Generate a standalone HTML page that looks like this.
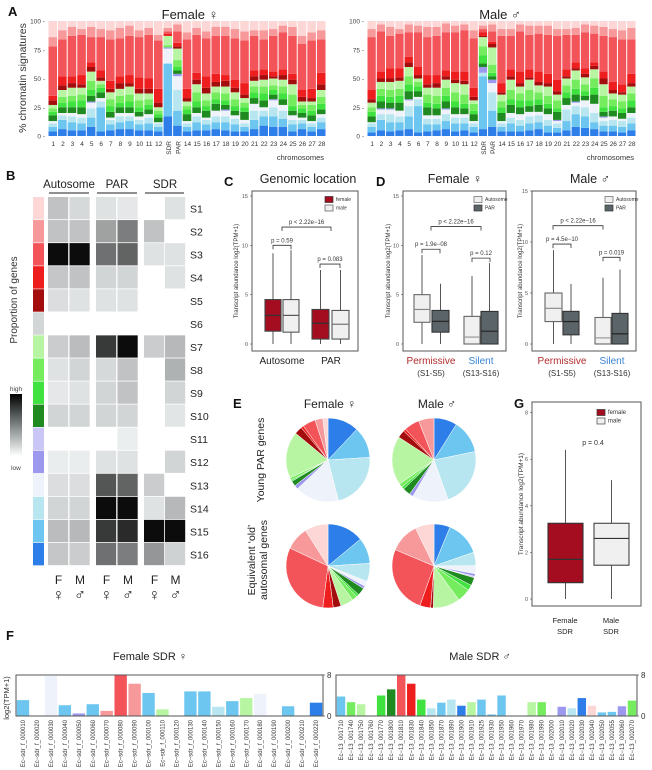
<!DOCTYPE html>
<html><head><meta charset="utf-8"><style>
html,body{margin:0;padding:0;background:#fff}
svg{display:block;font-family:"Liberation Sans",sans-serif}
</style></head><body>
<svg id="fig" xmlns="http://www.w3.org/2000/svg" width="652" height="770" viewBox="0 0 652 770"></svg>
<script>
// ---------- DATA ----------
const stateColors=['#fdd6d6','#f7999a','#f2545a','#ee1e1e','#a30d0d','#d3d6d6','#b8f5a3','#75ec5e','#3fe23f','#1f8a1f','#cac6f6','#9c98ee','#eef3fb','#b7e6f0','#6cc6ef','#2d7ee9'];
const stateNames=['S1','S2','S3','S4','S5','S6','S7','S8','S9','S10','S11','S12','S13','S14','S15','S16'];
const chromosomes=['1','2','3','4','5','6','7','8','9','10','11','12','SDR','PAR','14','15','16','17','18','19','20','21','22','23','24','25','26','27','28'];
const aTicks=[0,25,50,75,100];
// rows: S16..S1 percentages per chromosome
const femaleStacks=[
[4,4,3,2,0,0,5,3,3,3,0,4,4,43,8,14],[6,8,4,2,0,0,5,4,5,6,0,4,8,32,8,8],[5,7,5,3,0,0,5,5,5,7,0,4,6,35,8,5],
[5,6,5,3,0,0,6,6,5,6,0,3,8,35,5,7],[8,8,8,5,1,0,5,5,8,8,0,4,4,22,9,5],[4,21,5,3,0,0,5,4,3,3,0,3,6,29,7,7],
[5,5,4,2,0,0,5,5,6,6,0,3,7,36,8,8],[6,6,5,3,0,0,5,4,6,6,0,5,6,33,9,6],[6,7,4,3,0,0,5,5,6,7,0,3,7,34,9,4],
[5,5,4,3,0,0,4,4,6,6,0,4,10,35,6,8],[5,6,5,3,0,0,4,4,5,5,0,4,9,38,6,6],[4,4,3,1,0,0,4,3,3,3,0,4,12,42,5,12],
[17,46,0,13,1,0,0,0,2,8,0,0,2,2,3,6],[9,13,18,12,2,0,3,3,6,10,0,2,3,10,6,3],
[4,4,3,2,0,0,6,4,3,4,0,3,8,43,6,10],[5,7,5,3,0,0,5,5,8,7,0,4,6,33,6,6],[5,5,4,2,0,0,6,4,5,6,0,5,10,33,6,9],
[6,6,5,5,0,0,6,4,6,5,0,4,7,33,8,5],[5,7,5,5,1,0,4,4,6,6,0,5,5,34,8,5],[4,6,5,3,0,0,4,4,6,6,0,4,7,36,8,7],
[4,4,3,3,0,0,7,4,4,4,0,3,10,37,8,9],[6,8,8,6,0,0,5,5,5,5,0,4,5,30,5,8],[9,8,5,3,0,0,6,6,6,6,0,4,5,26,8,8],
[8,9,8,6,1,0,4,4,4,6,0,2,4,31,6,7],[8,7,7,5,0,0,5,5,6,6,0,4,5,32,6,4],[4,6,4,4,0,0,4,4,10,9,0,4,5,33,8,5],
[6,5,3,2,0,0,4,4,3,3,0,4,6,40,7,13],[4,4,3,2,0,0,5,4,5,3,0,3,8,42,7,10],[6,6,4,3,0,0,4,5,6,6,0,5,10,29,8,8]];
const maleStacks=[
[3,5,3,1,0,0,5,4,4,4,0,3,8,46,7,7],[5,9,5,4,1,0,6,5,6,6,0,3,6,35,6,3],[4,8,7,4,1,0,5,5,6,7,0,3,9,28,8,5],
[5,7,5,5,0,0,7,6,6,7,0,3,8,30,4,7],[6,11,9,5,1,0,7,6,7,8,0,4,5,21,7,3],[3,23,6,2,0,0,5,4,4,3,0,3,7,30,6,4],
[4,6,5,3,0,0,7,4,7,6,0,3,8,33,9,5],[5,5,5,3,0,0,6,4,7,7,0,4,7,34,8,5],[6,7,6,4,1,0,6,5,7,7,0,3,5,33,8,2],
[4,7,5,3,0,0,6,5,8,8,0,3,7,34,6,4],[5,6,5,3,0,0,5,4,8,9,0,3,8,36,5,3],[3,5,3,2,0,0,6,3,6,3,0,3,8,43,7,8],
[6,46,3,0,5,0,3,7,8,8,0,1,3,3,3,4],[8,14,16,8,3,0,3,3,7,15,0,3,2,9,6,3],
[4,4,3,2,0,0,7,5,5,6,0,2,8,41,6,7],[4,7,5,4,0,0,7,5,8,9,0,3,6,29,6,7],[4,5,5,5,0,0,6,6,6,6,0,3,10,35,6,3],
[5,6,6,4,0,0,5,5,9,9,0,2,7,30,8,4],[6,6,6,3,0,0,6,5,6,6,0,3,9,33,7,4],[3,6,5,5,0,0,5,4,7,8,0,3,8,34,8,4],
[3,4,4,2,1,0,7,3,7,5,0,3,10,38,6,7],[5,8,10,4,0,0,6,5,6,6,0,2,6,30,5,7],[8,11,7,3,1,0,6,5,8,8,0,2,5,24,6,6],
[7,10,8,6,0,0,4,4,6,6,0,3,5,31,7,3],[6,6,8,8,0,0,8,6,8,8,0,3,3,25,7,4],[4,5,4,3,1,0,4,4,10,10,0,5,6,31,8,5],
[4,5,5,3,0,0,5,4,6,5,0,3,7,39,7,7],[3,5,5,2,0,0,5,4,6,6,0,2,7,39,8,8],[5,6,5,4,0,0,5,6,6,6,0,3,8,30,10,6]];
// heatmap: rows S1..S16, cols Auto F, Auto M, PAR F, PAR M, SDR F, SDR M (null = none)
const heatCols=['autosome-F','autosome-M','par-F','par-M','sdr-F','sdr-M'];
const heatValues=[
[.3,.18,.12,.08,null,.12],[.3,.3,.45,.6,.3,null],[1,1,.65,.7,.12,.12],[.28,.3,.2,.2,null,.12],
[.15,.12,.12,.12,null,null],[null,null,null,null,null,null],[.25,.33,.85,1,.25,.35],[.12,.2,.18,.3,null,.38],
[.08,.12,.2,.3,null,.2],[.2,.2,.2,.2,null,.1],[null,null,null,.02,null,null],[.03,.03,.12,.12,null,.2],
[.15,.15,.75,.7,.25,null],[.2,.2,1,1,.12,.35],[.33,.35,.85,.9,1,1],[.28,.25,.65,.6,.5,.22]];
// boxplots: [q1, median, q3, lowWhisker, highWhisker]
const boxC=[[1.3,2.9,4.5,0,9.2],[1.2,2.9,4.5,0,9.5],[0.5,2.1,3.5,0,7.5],[0.5,2.0,3.4,0,7.5]];
const boxDF=[[2.2,3.5,5.0,0,9.0],[1.2,2.3,3.4,0,6.1],[0,0.7,2.8,0,6.9],[0,1.3,3.3,0,8.2]];
const boxDM=[[2.2,3.5,5.0,0,9.2],[0.9,2.2,3.2,0,5.9],[0,0.6,2.6,0,6.5],[0,1.0,3.0,0,7.3]];
const boxG=[[0.7,1.7,3.25,0,6.4],[1.45,2.6,3.25,0,5.1]];
const ticks15=[0,5,10,15];
const ticksG=[0,2,4,6,8];
// pie values in order S16..S1 (clockwise from 12 o'clock)
const pieYoungF=[12,12,22,17,1.5,0,2,0.5,1,18,0,3,1,5,3,2];
const pieYoungM=[9,13,23,14,1.5,0,3,1,1.5,19,0,3,1,6,6,0];
const pieOldF=[14,10,7,2,1,0,3,1,2,5,0,3,4,30,9,9];
const pieOldM=[6,13,5,3,1,0.5,3,2,5,10,0,1,4,25,11,7];
// panel F
const femaleGenes=['000010','000020','000030','000040','000050','000060','000070','000080','000090','000100','000110','000120','000130','000140','000150','000160','000170','000180','000190','000200','000210','000220'];
const femaleExpr=[3.1,0,7.8,2.1,0.5,2.3,1.0,8,6.3,4.5,1.3,0,4.8,4.8,1.8,2.9,3.5,4.3,0,1.9,0,2.6];
const femaleState=[15,15,13,15,12,15,2,3,2,15,7,15,15,15,14,15,7,13,15,15,15,16];
const maleGenes=['001710','001740','001750','001760','001770','001800','001810','001830','001840','001850','001870','001890','001900','001910','001925','001930','001950','001960','001970','001980','001990','002000','002010','002020','002030','002040','002050','002055','002060','002070'];
const maleExpr=[3.8,2.7,2.3,0,4.0,5.2,8,6.3,3.2,1.5,2.6,3.2,2.0,2.7,3.2,0.3,4.0,0,0,2.7,2.7,0,1.8,1.5,3.5,2.0,0.7,0.8,1.9,3.0];
const maleState=[15,8,7,15,9,10,3,4,9,14,15,14,16,7,15,15,15,15,15,7,8,15,12,14,16,1,15,15,12,8];

// ---------- HELPERS ----------
const NS='http://www.w3.org/2000/svg';
const svg=document.getElementById('fig');
function mk(tag,a,p){const e=document.createElementNS(NS,tag);for(const k in a)e.setAttribute(k,a[k]);(p||svg).appendChild(e);return e;}
function tx(x,y,s,a,p){const e=mk('text',Object.assign({x:x,y:y,fill:'#222'},a||{}),p);e.textContent=s;return e;}
function grp(name){const g=mk('g',{});return g;}

// panel letters
[['A',8,16],['B',6,180],['C',224,186],['D',376,186],['E',233,408],['G',514,408],['F',6,640]].forEach(function(d){
  const t=tx(d[1],d[2],d[0],{'font-size':13,'font-weight':'bold',fill:'#111'});
  
  
});

// ---------- PANEL A ----------
function stackChart(name,rows,x0,x1,yl,title,titleX){
  const g=grp(name);
  const y0=136,yTop=21;
  const ys=v=>y0-(v/100)*(y0-yTop);
  const slot=(x1-x0)/chromosomes.length;
  const t=tx(titleX,19,title,{'font-size':13,'text-anchor':'middle'},g);
  
  
  aTicks.forEach(function(v){
    const l=tx(yl,ys(v)+2.5,v+' -',{'font-size':6.5,'text-anchor':'end',fill:'#444'},g);
    
    
  });
  rows.forEach(function(r,i){
    const tot=r.reduce((a,b)=>a+b,0);
    let acc=0;
    const bx=x0+i*slot+0.5;
    r.forEach(function(v,j){
      if(v<=0)return;
      const yA=ys(acc/tot*100),yB=ys((acc+v)/tot*100);acc+=v;
      const rc=mk('rect',{x:bx,y:yB,width:slot-1,height:Math.max(0,yA-yB),fill:stateColors[15-j]},g);
      
      
    });
    const c=chromosomes[i];
    let lab;
    if(c==='SDR'||c==='PAR'){
      lab=tx(bx+slot/2+2.5,141,c,{'font-size':6.5,'text-anchor':'end',fill:'#333',transform:'rotate(-90 '+(bx+slot/2+2.5)+' 141)'},g);
    }else{
      lab=tx(bx+slot/2,146,c,{'font-size':6.5,'text-anchor':'middle',fill:'#333'},g);
    }
    
    
  });
  const xt=tx(x1-2,160,'chromosomes',{'font-size':7.5,'text-anchor':'end',fill:'#333'},g);
  
  
}
stackChart('female-stacked-chart',femaleStacks,48,326,45,'Female \u2640',190);
stackChart('male-stacked-chart',maleStacks,367,636,364,'Male \u2642',500);
const ayl=tx(26,78,'% chromatin signatures',{'font-size':10.5,'text-anchor':'middle',fill:'#333',transform:'rotate(-90 26 78)'});



// ---------- PANEL B ----------
(function(){
  const g=grp('heatmap-panel');
  const top=197,pitch=23.06;
  const colX=[48,69.5,96,117.5,144,165],cw=21;
  [['Autosome',69,49,89],['PAR',117,97,137],['SDR',165,145,184]].forEach(function(h){
    const t=tx(h[1],188,h[0],{'font-size':11.5,'text-anchor':'middle',fill:'#222'},g);
    
    
    mk('line',{x1:h[2],x2:h[3],y1:193,y2:193,stroke:'#222','stroke-width':1},g);
  });
  stateNames.forEach(function(s,i){
    const y=top+i*pitch;
    const sw=mk('rect',{x:33,y:y,width:11,height:pitch-0.6,fill:stateColors[i]},g);
    
    
    heatValues[i].forEach(function(v,j){
      if(v===null)return;
      const c0=[236,239,240],c1=[12,12,12];
      const w=Math.pow(v,1.35);
      const col='rgb('+c0.map((a,k)=>Math.round(a+(c1[k]-a)*w)).join(',')+')';
      const r=mk('rect',{x:colX[j],y:y,width:cw-0.8,height:pitch-0.8,fill:col},g);
      
      
    });
    const l=tx(190,y+pitch/2+4,s,{'font-size':10.5,fill:'#222'},g);
    
    
  });
  ['F','M','F','M','F','M'].forEach(function(s,j){
    const cx=colX[j]+cw/2;
    const a=tx(cx,584,s,{'font-size':12,'text-anchor':'middle'},g);
    
    
    const b=tx(cx,600,s==='F'?'\u2640':'\u2642',{'font-size':16,'text-anchor':'middle'},g);
    
    
  });
  const defs=mk('defs',{},g);
  const lg=mk('linearGradient',{id:'gb',x1:0,y1:0,x2:0,y2:1},defs);
  mk('stop',{offset:0,'stop-color':'#000'},lg);mk('stop',{offset:0.5,'stop-color':'#7d8384'},lg);mk('stop',{offset:1,'stop-color':'#fff'},lg);
  const cb=mk('rect',{x:10,y:394,width:12,height:62,fill:'url(#gb)'},g);
  
  
  tx(16,391,'high',{'font-size':6.5,'text-anchor':'middle',fill:'#444'},g);
  tx(16,470,'low',{'font-size':6.5,'text-anchor':'middle',fill:'#444'},g);
  const pl=tx(17,300,'Proportion of genes',{'font-size':10,'text-anchor':'middle',fill:'#333',transform:'rotate(-90 17 300)'},g);
  
  
})();

// ---------- BOX PLOTS ----------
function boxPanel(name,f){
  const g=grp(name);
  const ys=v=>f.y0-v*f.k;
  const fr=mk('rect',{x:f.fx0,y:f.fy0,width:f.fx1-f.fx0,height:f.fy1-f.fy0,fill:'none',stroke:'#555','stroke-width':1},g);
  
  
  f.ticks.forEach(function(v){
    const t=tx(f.fx0-4,ys(v)+2,String(v),{'font-size':5.5,'text-anchor':'end',fill:'#555'},g);
    
    
    mk('line',{x1:f.fx0-2,x2:f.fx0,y1:ys(v),y2:ys(v),stroke:'#555','stroke-width':0.6},g);
  });
  f.data.forEach(function(d,i){
    const xl=f.bx[i][0],xr=f.bx[i][1],xm=(xl+xr)/2;
    mk('line',{x1:xm,x2:xm,y1:ys(d[4]),y2:ys(d[3]),stroke:'#555','stroke-width':1},g);
    const b=mk('rect',{x:xl,y:ys(d[2]),width:xr-xl,height:Math.max(0.5,ys(d[0])-ys(d[2])),fill:f.fills[i],stroke:f.strokes[i],'stroke-width':1.1},g);
    
    
    mk('line',{x1:xl,x2:xr,y1:ys(d[1]),y2:ys(d[1]),stroke:f.medStroke[i],'stroke-width':1.2},g);
  });
  f.brackets.forEach(function(b){
    const y=ys(b[2]);
    const p=mk('path',{d:'M'+b[0]+' '+(y+4)+'V'+y+'H'+b[1]+'V'+(y+4),fill:'none',stroke:'#333','stroke-width':0.8},g);
    
    
    const t=tx((b[0]+b[1])/2,y-3,b[3],{'font-size':6,'text-anchor':'middle',fill:'#333'},g);
    
    
  });
  f.legend.forEach(function(l,i){
    const y=f.ly+i*8.5;
    const r=mk('rect',{x:f.lx,y:y-4.5,width:8,height:6,fill:l[1],stroke:l[2],'stroke-width':0.7},g);
    
    
    const t=tx(f.lx+11,y,l[0],{'font-size':f.lfs||5,fill:'#333'},g);
    
    
  });
  const yl=tx(f.ylx,(f.fy0+f.fy1)/2,'Transcript abundance log2(TPM+1)',{'font-size':f.ylfs||6,'text-anchor':'middle',fill:'#333',transform:'rotate(-90 '+f.ylx+' '+(f.fy0+f.fy1)/2+')'},g);
  
  
  if(f.title){
    const t=tx(f.title[1],183,f.title[0],{'font-size':12.5,'text-anchor':'middle'},g);
    
    
  }
  return g;
}
const red='#a30d1f',light='#f0f0f0',dark='#5b6468';
const gC=boxPanel('genomic-location-boxplot',{y0:344,k:9.87,fx0:252,fx1:358,fy0:191,fy1:351,ticks:ticks15,data:boxC,
  bx:[[265,281],[283,299],[312,329],[332,349]],fills:[red,light,red,light],strokes:['#444','#555','#444','#555'],medStroke:['#333','#555','#333','#777'],
  names:['box-autosome-female','box-autosome-male','box-par-female','box-par-male'],
  brackets:[[273,291,10.0,'p = 0.59'],[320,340,8.1,'p = 0.083'],[282,331,11.85,'p < 2.22e\u221216']],
  legend:[['female',red,'#333'],['male',light,'#555']],lx:325,ly:201,ylx:238,title:['Genomic location',308]});
[['Autosome',282],['PAR',331]].forEach(function(d){const t=tx(d[1],364,d[0],{'font-size':10,'text-anchor':'middle'},gC);});

function dLabels(g,x1,x2){
  [[x1,'Permissive','(S1-S5)','#b22a2a'],[x2,'Silent','(S13-S16)','#3a82d6']].forEach(function(d){
    const a=tx(d[0],364,d[1],{'font-size':10,'text-anchor':'middle',fill:d[3]},g);
    
    const b=tx(d[0],376,d[2],{'font-size':8,'text-anchor':'middle',fill:'#333'},g);
    
  });
}
const gDF=boxPanel('female-chromatin-boxplot',{y0:344,k:9.87,fx0:403,fx1:506,fy0:191,fy1:351,ticks:ticks15,data:boxDF,
  bx:[[414,430],[432,449],[464,480],[481,498]],fills:[light,dark,light,dark],strokes:['#666','#333','#666','#333'],medStroke:['#888','#222','#999','#222'],
  names:['box-permissive-autosome','box-permissive-par','box-silent-autosome','box-silent-par'],
  brackets:[[422,440,9.6,'p = 1.9e\u221208'],[472,490,8.7,'p = 0.12'],[431,481,11.9,'p < 2.22e\u221216']],
  legend:[['Autosome',light,'#666'],['PAR',dark,'#333']],lx:474,ly:201,ylx:390,title:['Female \u2640',455]});
dLabels(gDF,431,481);
const gDM=boxPanel('male-chromatin-boxplot',{y0:344,k:10.2,fx0:532,fx1:636,fy0:191,fy1:351,ticks:ticks15,data:boxDM,
  bx:[[545,562],[563,579],[595,611],[612,628]],fills:[light,dark,light,dark],strokes:['#666','#333','#666','#333'],medStroke:['#888','#222','#999','#222'],
  names:['box-permissive-autosome','box-permissive-par','box-silent-autosome','box-silent-par'],
  brackets:[[553,571,9.8,'p = 4.5e\u221210'],[603,620,8.5,'p = 0.019'],[553,603,11.6,'p < 2.22e\u221216']],
  legend:[['Autosome',light,'#666'],['PAR',dark,'#333']],lx:605,ly:201,ylx:522,title:['Male \u2642',590]});
dLabels(gDM,562,612);

const gG=boxPanel('sdr-expression-boxplot',{y0:599,k:23.3,fx0:532,fx1:641,fy0:402,fy1:606,ticks:ticksG,data:boxG,
  bx:[[548,583],[594,629]],fills:[red,light],strokes:['#333','#444'],medStroke:['#333','#333'],
  names:['box-female-sdr','box-male-sdr'],brackets:[],
  legend:[['female',red,'#333'],['male',light,'#444']],lx:597,ly:414,lfs:6,ylx:523,ylfs:6.5,title:null});
const pg=tx(593,445,'p = 0.4',{'font-size':7,'text-anchor':'middle',fill:'#333'},gG);

[[565,'Female'],[611,'Male']].forEach(function(d){
  const a=tx(d[0],623,d[1],{'font-size':7.5,'text-anchor':'middle'},gG);
  const b=tx(d[0],634,'SDR',{'font-size':7.5,'text-anchor':'middle'},gG);
});

// ---------- PANEL E ----------
function pie(name,vals,cx,cy,r){
  const g=grp(name);
  const tot=vals.reduce((a,b)=>a+b,0);
  let a0=-Math.PI/2;
  vals.forEach(function(v,j){
    if(v<=0)return;
    const a1=a0+v/tot*2*Math.PI;
    const large=(a1-a0)>Math.PI?1:0;
    const p=mk('path',{d:'M'+cx+' '+cy+'L'+(cx+r*Math.cos(a0))+' '+(cy+r*Math.sin(a0))+'A'+r+' '+r+' 0 '+large+' 1 '+(cx+r*Math.cos(a1))+' '+(cy+r*Math.sin(a1))+'Z',fill:stateColors[15-j],stroke:'#fff','stroke-width':0.5},g);
    
    
    a0=a1;
  });
}
pie('pie-young-female',pieYoungF,328,460,42);
pie('pie-young-male',pieYoungM,434,460,42);
pie('pie-old-female',pieOldF,328,566,42);
pie('pie-old-male',pieOldM,434,566,42);
[['Female \u2640',330],['Male \u2642',437]].forEach(function(d){
  const t=tx(d[1],408,d[0],{'font-size':12,'text-anchor':'middle'});
  
});
[[264,460,'Young PAR genes'],[255,560,"Equivalent \u2018old\u2019"],[267,560,'autosomal genes']].forEach(function(d){
  const t=tx(d[0],d[1],d[2],{'font-size':10.5,'text-anchor':'middle',transform:'rotate(-90 '+d[0]+' '+d[1]+')'});
  
});

// ---------- PANEL F ----------
function sdrBars(name,genes,expr,states,x0,x1,prefix,title,titleX){
  const g=grp(name);
  const yT=675,yB=716;
  const ys=v=>yB-v*(yB-yT)/8;
  const slot=(x1-x0)/genes.length;
  const t=tx(titleX,660,title,{'font-size':11,'text-anchor':'middle'},g);
  
  genes.forEach(function(gn,i){
    const v=expr[i];
    if(v>0){
      const r=mk('rect',{x:x0+i*slot+0.8,y:ys(v),width:slot-1.6,height:yB-ys(v),fill:stateColors[states[i]-1]},g);
      
      
    }
    const lx=x0+i*slot+slot/2+2;
    const l=tx(lx,720,prefix+gn,{'font-size':6,'text-anchor':'end',fill:'#333',transform:'rotate(-90 '+lx+' 720)'},g);
    
  });
  const fr=mk('rect',{x:x0,y:yT,width:x1-x0,height:yB-yT,fill:'none',stroke:'#555','stroke-width':1},g);
  
  [0,8].forEach(function(v){
    mk('line',{x1:x1,x2:x1+2,y1:ys(v),y2:ys(v),stroke:'#555','stroke-width':0.7},g);
    const tl=tx(x1+4,ys(v)+3,String(v),{'font-size':8,fill:'#333'},g);
    
  });
}
sdrBars('female-sdr-bars',femaleGenes,femaleExpr,femaleState,16,323,'Ec\u2212sdr_f_','Female SDR  \u2640',150);
sdrBars('male-sdr-bars',maleGenes,maleExpr,maleState,336,637,'Ec\u221213_','Male SDR  \u2642',480);
const fyl=tx(9,698,'log2(TPM+1)',{'font-size':7.5,'text-anchor':'middle',fill:'#333',transform:'rotate(-90 9 698)'});

</script>
</body></html>
